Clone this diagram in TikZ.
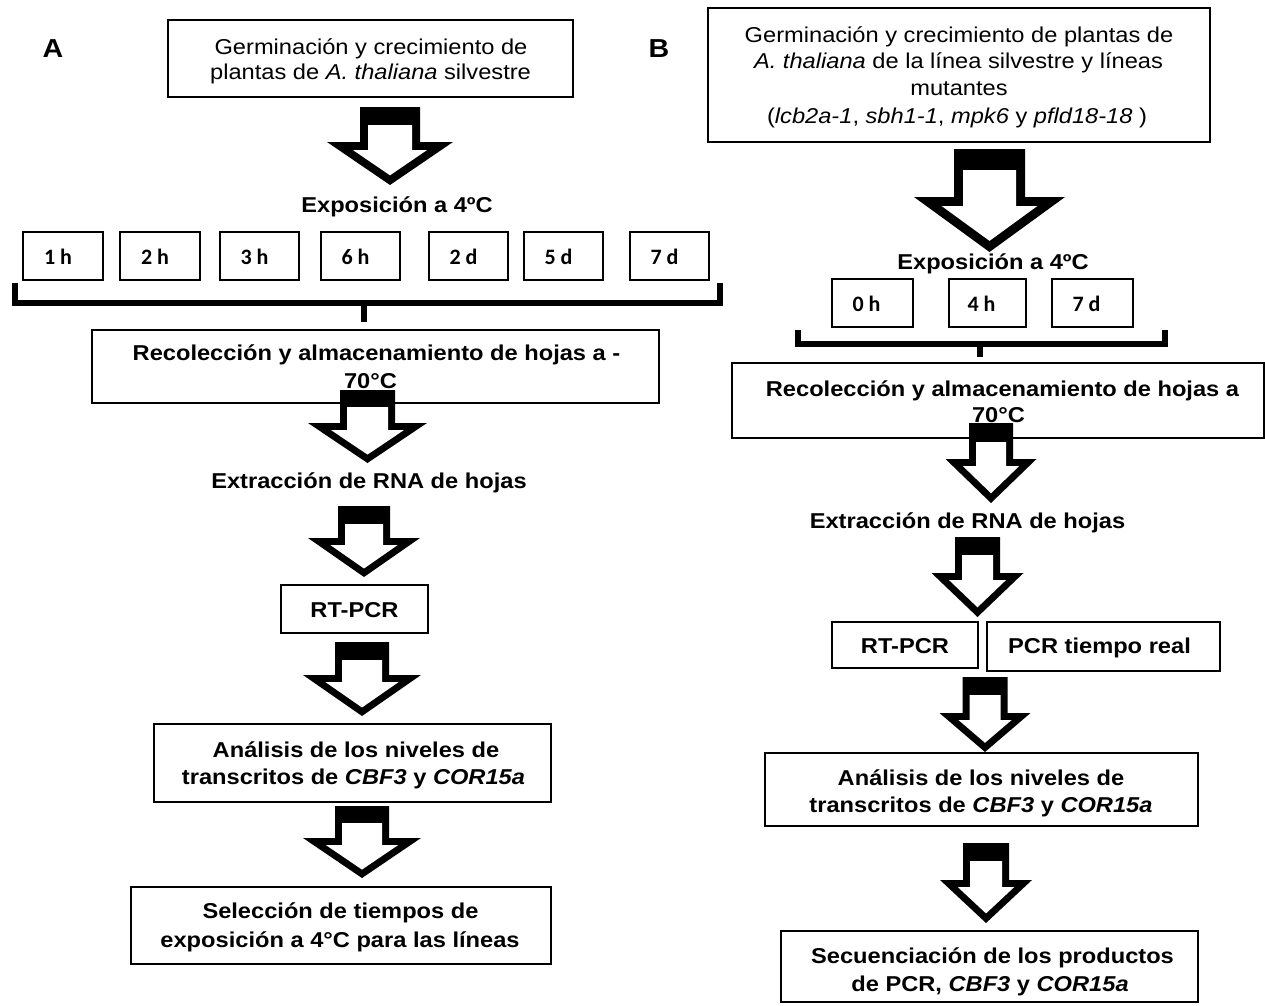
\documentclass[tikz,border=0pt]{standalone}
\usepackage{fontspec}
\setmainfont{Liberation Sans}[FakeStretch=1.1]
\newfontfamily\calfont{Carlito}
\usetikzlibrary{fit}
% block arrow: #1 cx, #2 top, #3 half cap width, #4 cap thickness, #5 wing y, #6 half wing width, #7 tip y, #8 wall
\newcommand\fatarrow[8]{%
  \pgfmathsetmacro\faA{atan((#7-#5)/#6)}%
  \pgfmathsetmacro\faS{#8/sin(\faA)}%
  \pgfmathsetmacro\faIW{#6*(#7-#5-#8)/(#7-#5)-\faS}%
  \pgfmathsetmacro\faIT{#7-#8/cos(\faA)}%
  \fill[black] (#1-#3,#2) -- (#1+#3,#2) -- (#1+#3,#5) -- (#1+#6,#5) -- (#1,#7) -- (#1-#6,#5) -- (#1-#3,#5) -- cycle;
  \fill[white] (#1-#3+#8,#2+#4) -- (#1+#3-#8,#2+#4) -- (#1+#3-#8,#5+#8) -- (#1+\faIW,#5+#8) -- (#1,\faIT) -- (#1-\faIW,#5+#8) -- (#1-#3+#8,#5+#8) -- cycle;
}
\begin{document}
\begin{tikzpicture}[x=1pt,y=-1pt,
  mainbox/.style={draw, line width=2.6pt, inner sep=0pt},
  tbox/.style={draw, line width=2pt, inner sep=0pt},
  txt/.style={anchor=base, inner sep=0pt, font=\fontsize{21.5}{26}\selectfont},
  btxt/.style={anchor=base, inner sep=0pt, font=\fontsize{21.5}{26}\selectfont\bfseries},
  tlab/.style={anchor=base, inner sep=0pt, font=\calfont\fontsize{22}{26}\selectfont\bfseries},
  panel/.style={anchor=base, inner sep=0pt, font=\fontsize{26}{30}\selectfont\bfseries},
  bracket/.style={line width=6pt}]
\useasboundingbox[fill=white] (0,0) rectangle (1265,1005);

% ---------------- Panel A ----------------
\node[panel] (labA) at (53,57) {A};
\node[mainbox, fit={(168,20) (573,97)}] (a1) {};
\node[txt] (a1l1) at (371,54) {Germinación y crecimiento de};
\node[txt] (a1l2) at (370.5,79) {plantas de \textit{A. thaliana} silvestre};
\node[btxt] (expA) at (397,212) {Exposición a 4ºC};
\foreach \n/\xa/\xb/\lab in {1/23/103/1 h,2/120/200/2 h,3/220/299/3 h,4/321/400/6 h,5/429/508/2 d,6/524/603/5 d,7/630/709/7 d}{
  \node[tbox, fit={(\xa,232) (\xb,280)}] (ta\n) {};
  \node[tlab] (tal\n) at ({(\xa+\xb)/2-5},264) {\lab};
}
\coordinate (brAl) at (14.5,283);
\coordinate (brAr) at (719.5,283);
\coordinate (brAm) at (363.5,302.5);
\coordinate (brAs) at (363.5,322);
\draw[bracket] (brAl) -- (brAl |- brAm) -- (brAr |- brAm) -- (brAr);
\draw[bracket] (brAm) -- (brAs);
\node[mainbox, fit={(92,330) (659,403)}] (a2) {};
\node[btxt] (a2l1) at (376.5,360) {Recolección y almacenamiento de hojas a -};
\node[btxt] (a2l2) at (370.5,388) {70°C};
\node[btxt] (a3) at (369,488) {Extracción de RNA de hojas};
\node[mainbox, fit={(281,585) (428,633)}] (a4) {};
\node[btxt] (a4t) at (354.5,617) {RT-PCR};
\node[mainbox, fit={(154,724) (551,802)}] (a5) {};
\node[btxt] (a5l1) at (356,757) {Análisis de los niveles de};
\node[btxt] (a5l2) at (353.5,784) {transcritos de \textit{CBF3} y \textit{COR15a}};
\node[mainbox, fit={(131,887) (551,964)}] (a6) {};
\node[btxt] (a6l1) at (340.5,918) {Selección de tiempos de};
\node[btxt] (a6l2) at (340,947) {exposición a 4°C para las líneas};

\fatarrow{390}{107}{30}{18}{142}{63}{185}{8}
\fatarrow{367.5}{390}{27.5}{17}{423}{59.5}{463}{7}
\fatarrow{364}{506}{26}{18}{538}{56}{577}{7}
\fatarrow{362}{642}{27}{18}{675}{59}{716}{7}
\fatarrow{362}{806}{27}{17}{838}{59}{878}{7}

% ---------------- Panel B ----------------
\node[panel] (labB) at (659,57) {B};
\node[mainbox, fit={(708,8) (1210,142)}] (b1) {};
\node[txt] (b1l1) at (959,42) {Germinación y crecimiento de plantas de};
\node[txt] (b1l2) at (958.5,68) {\textit{A. thaliana} de la línea silvestre y líneas};
\node[txt] (b1l3) at (959,95) {mutantes};
\node[txt] (b1l4) at (957,123) {(\textit{lcb2a-1}, \textit{sbh1-1}, \textit{mpk6} y \textit{pfld18-18} )};
\node[btxt] (expB) at (993,269) {Exposición a 4ºC};
\foreach \n/\xa/\xb/\lab in {1/832/913/0 h,2/949/1026/4 h,3/1052/1133/7 d}{
  \node[tbox, fit={(\xa,279) (\xb,327)}] (tb\n) {};
  \node[tlab] (tbl\n) at ({(\xa+\xb)/2-6},311) {\lab};
}
\coordinate (brBl) at (797.5,330);
\coordinate (brBr) at (1164.5,330);
\coordinate (brBm) at (979.5,344);
\coordinate (brBs) at (979.5,357);
\draw[bracket] (brBl) -- (brBl |- brBm) -- (brBr |- brBm) -- (brBr);
\draw[bracket] (brBm) -- (brBs);
\node[mainbox, fit={(732,363) (1264,438)}] (b2) {};
\node[btxt] (b2l1) at (1002.5,396) {Recolección y almacenamiento de hojas a};
\node[btxt] (b2l2) at (998.5,422) {70°C};
\node[btxt] (b3) at (967.5,528) {Extracción de RNA de hojas};
\node[mainbox, fit={(832,622) (978,668)}] (b4) {};
\node[btxt] (b4t) at (905,653) {RT-PCR};
\node[mainbox, fit={(987,622) (1220,671)}] (b4b) {};
\node[btxt] (b4bt) at (1099.5,653) {PCR tiempo real};
\node[mainbox, fit={(765,753) (1198,826)}] (b5) {};
\node[btxt] (b5l1) at (981,785) {Análisis de los niveles de};
\node[btxt] (b5l2) at (981,812) {transcritos de \textit{CBF3} y \textit{COR15a}};
\node[mainbox, fit={(781,931) (1198,1002)}] (b6) {};
\node[btxt] (b6l1) at (992.5,963) {Secuenciación de los productos};
\node[btxt] (b6l2) at (990,991) {de PCR, \textit{CBF3} y \textit{COR15a}};

\fatarrow{989.5}{149}{35.5}{21}{197}{75.5}{252}{9}
\fatarrow{991}{423}{22}{19}{459}{45.5}{503}{7}
\fatarrow{977.5}{537}{22.5}{18}{573}{46}{617}{7}
\fatarrow{985}{677}{22.5}{18}{713}{45.5}{752}{7}
\fatarrow{986}{843}{23}{18}{880}{46}{923}{7}
\end{tikzpicture}
\end{document}
